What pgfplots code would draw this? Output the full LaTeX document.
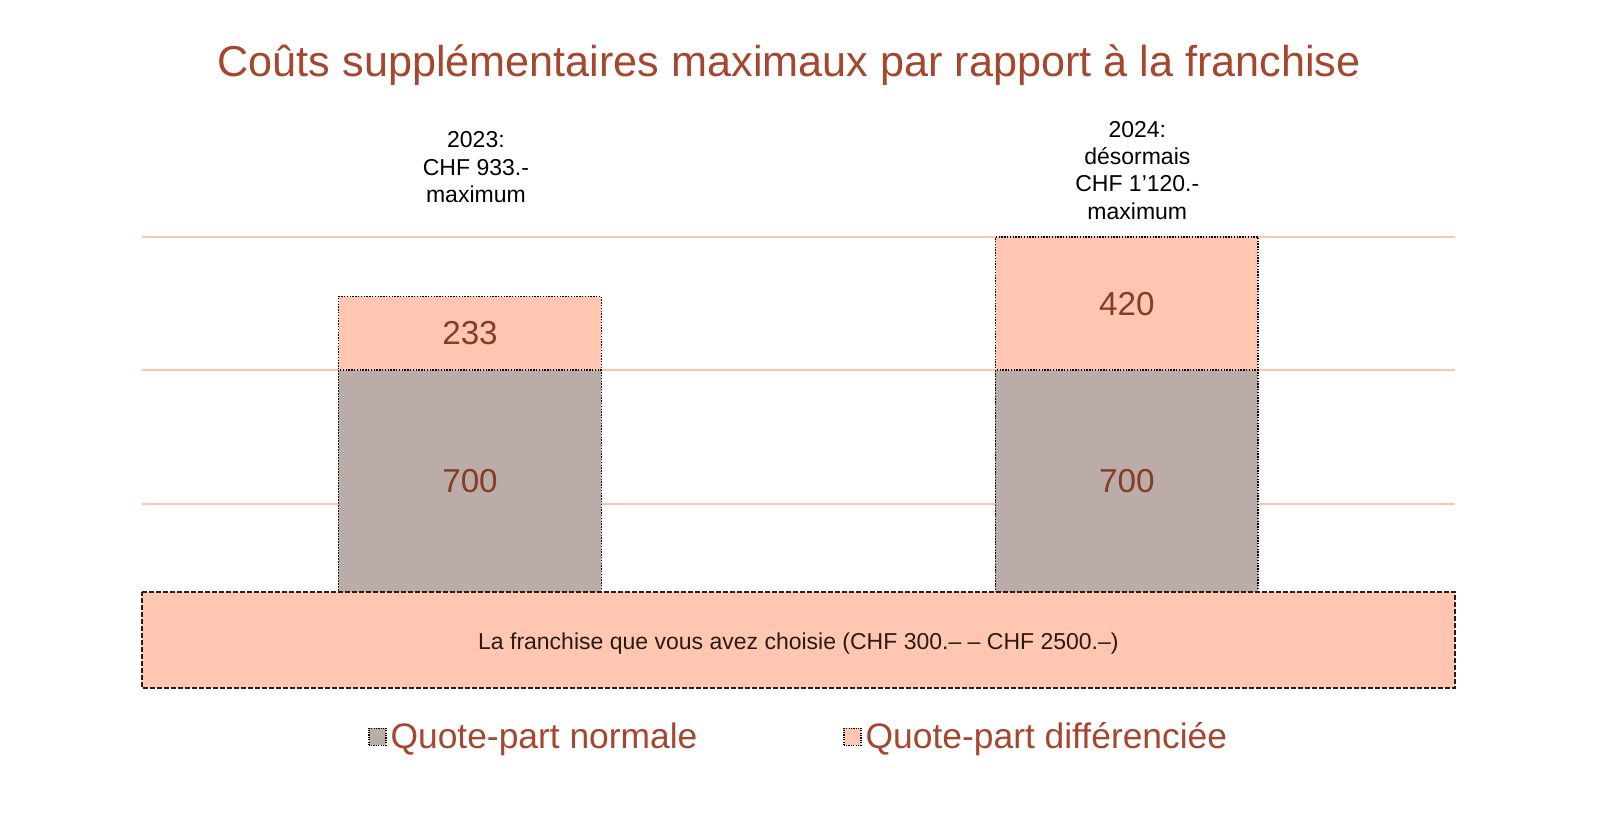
\documentclass[border=0pt]{standalone}
\usepackage{pgfplots}
\pgfplotsset{compat=1.18}
\usepackage{pgfplotstable}
\usepackage{fontspec}
\setmainfont{Liberation Sans}
\definecolor{pinkc}{HTML}{FFC6B1}
\definecolor{grayc}{HTML}{BAADA9}
\definecolor{titlec}{HTML}{A5462E}
\definecolor{labc}{HTML}{8A3B26}
\definecolor{gridc}{HTML}{FFC4AF}
\definecolor{darkc}{HTML}{2A1A14}

\pgfplotstableread{
x normal diff
0 700 233
1 700 420
}\data

\begin{document}
\begin{tikzpicture}[x=1pt,y=1pt]
\useasboundingbox (0,0) rectangle (804.5,413.5);
\node[anchor=base, text=titlec, font=\fontsize{21.6}{26}\selectfont] at (394.6,375.2)
  {Coûts supplémentaires maximaux par rapport à la franchise};
\begin{axis}[
  at={(70.8pt,69.7pt)}, anchor=south west,
  scale only axis, width=656.8pt, height=225.3pt,
  xmin=-0.5, xmax=1.5, ymin=-300, ymax=1120,
  axis line style={draw=none}, tick style={draw=none},
  xtick=\empty, ytick={280,700,1120}, yticklabels={},
  ymajorgrids, grid style={gridc, line width=1pt},
  clip=false,
  legend columns=2,
  legend cell align=left,
  legend style={at={(0.501,-0.109)}, anchor=center, draw=none, fill=none,
    font=\fontsize{17.7}{20}\selectfont, text=titlec,
    /tikz/every even column/.append style={column sep=71pt}},
  legend image code/.code={\draw[#1] (0pt,-4.25pt) rectangle (8.5pt,4.25pt);},
]
\addlegendimage{fill=grayc, draw=black, line width=0.6pt, dash pattern=on 0.6pt off 0.6pt}
\addlegendentry{Quote-part normale}
\addlegendimage{fill=pinkc, draw=black, line width=0.6pt, dash pattern=on 0.6pt off 0.6pt}
\addlegendentry{Quote-part différenciée}

\addplot[forget plot, ybar, bar width=0.4, bar shift=0pt, fill=pinkc, draw=black,
  line width=0.8pt, dash pattern=on 0.7pt off 0.7pt]
  table[x=x, y expr=\thisrow{normal}+\thisrow{diff}] {\data};
\addplot[forget plot, ybar, bar width=0.4, bar shift=0pt, fill=grayc, draw=black,
  line width=0.8pt, dash pattern=on 0.7pt off 0.7pt]
  table[x=x, y=normal] {\data};

\addplot[forget plot, fill=pinkc, draw=darkc, line width=1pt, dash pattern=on 2.5pt off 1pt]
  coordinates {(-0.5,0) (1.5,0) (1.5,-300) (-0.5,-300)} -- cycle;

\node[text=labc, font=\fontsize{16.6}{20}\selectfont] at (axis cs:0,350) {700};
\node[text=labc, font=\fontsize{16.6}{20}\selectfont] at (axis cs:1,350) {700};
\node[text=labc, font=\fontsize{16.6}{20}\selectfont] at (axis cs:0,816.5) {233};
\node[text=labc, font=\fontsize{16.6}{20}\selectfont] at (axis cs:1,910) {420};

\node[align=center, font=\fontsize{11.5}{13.6}\selectfont] at (axis cs:0.009,1340)
  {2023:\\CHF 933.-\\maximum};
\node[align=center, font=\fontsize{11.5}{13.6}\selectfont] at (axis cs:1.016,1330)
  {2024:\\désormais\\CHF 1’120.-\\maximum};

\node[text=darkc, font=\fontsize{11.5}{14}\selectfont] at (axis cs:0.5,-160)
  {La franchise que vous avez choisie (CHF 300.– – CHF 2500.–)};
\end{axis}
\end{tikzpicture}
\end{document}
